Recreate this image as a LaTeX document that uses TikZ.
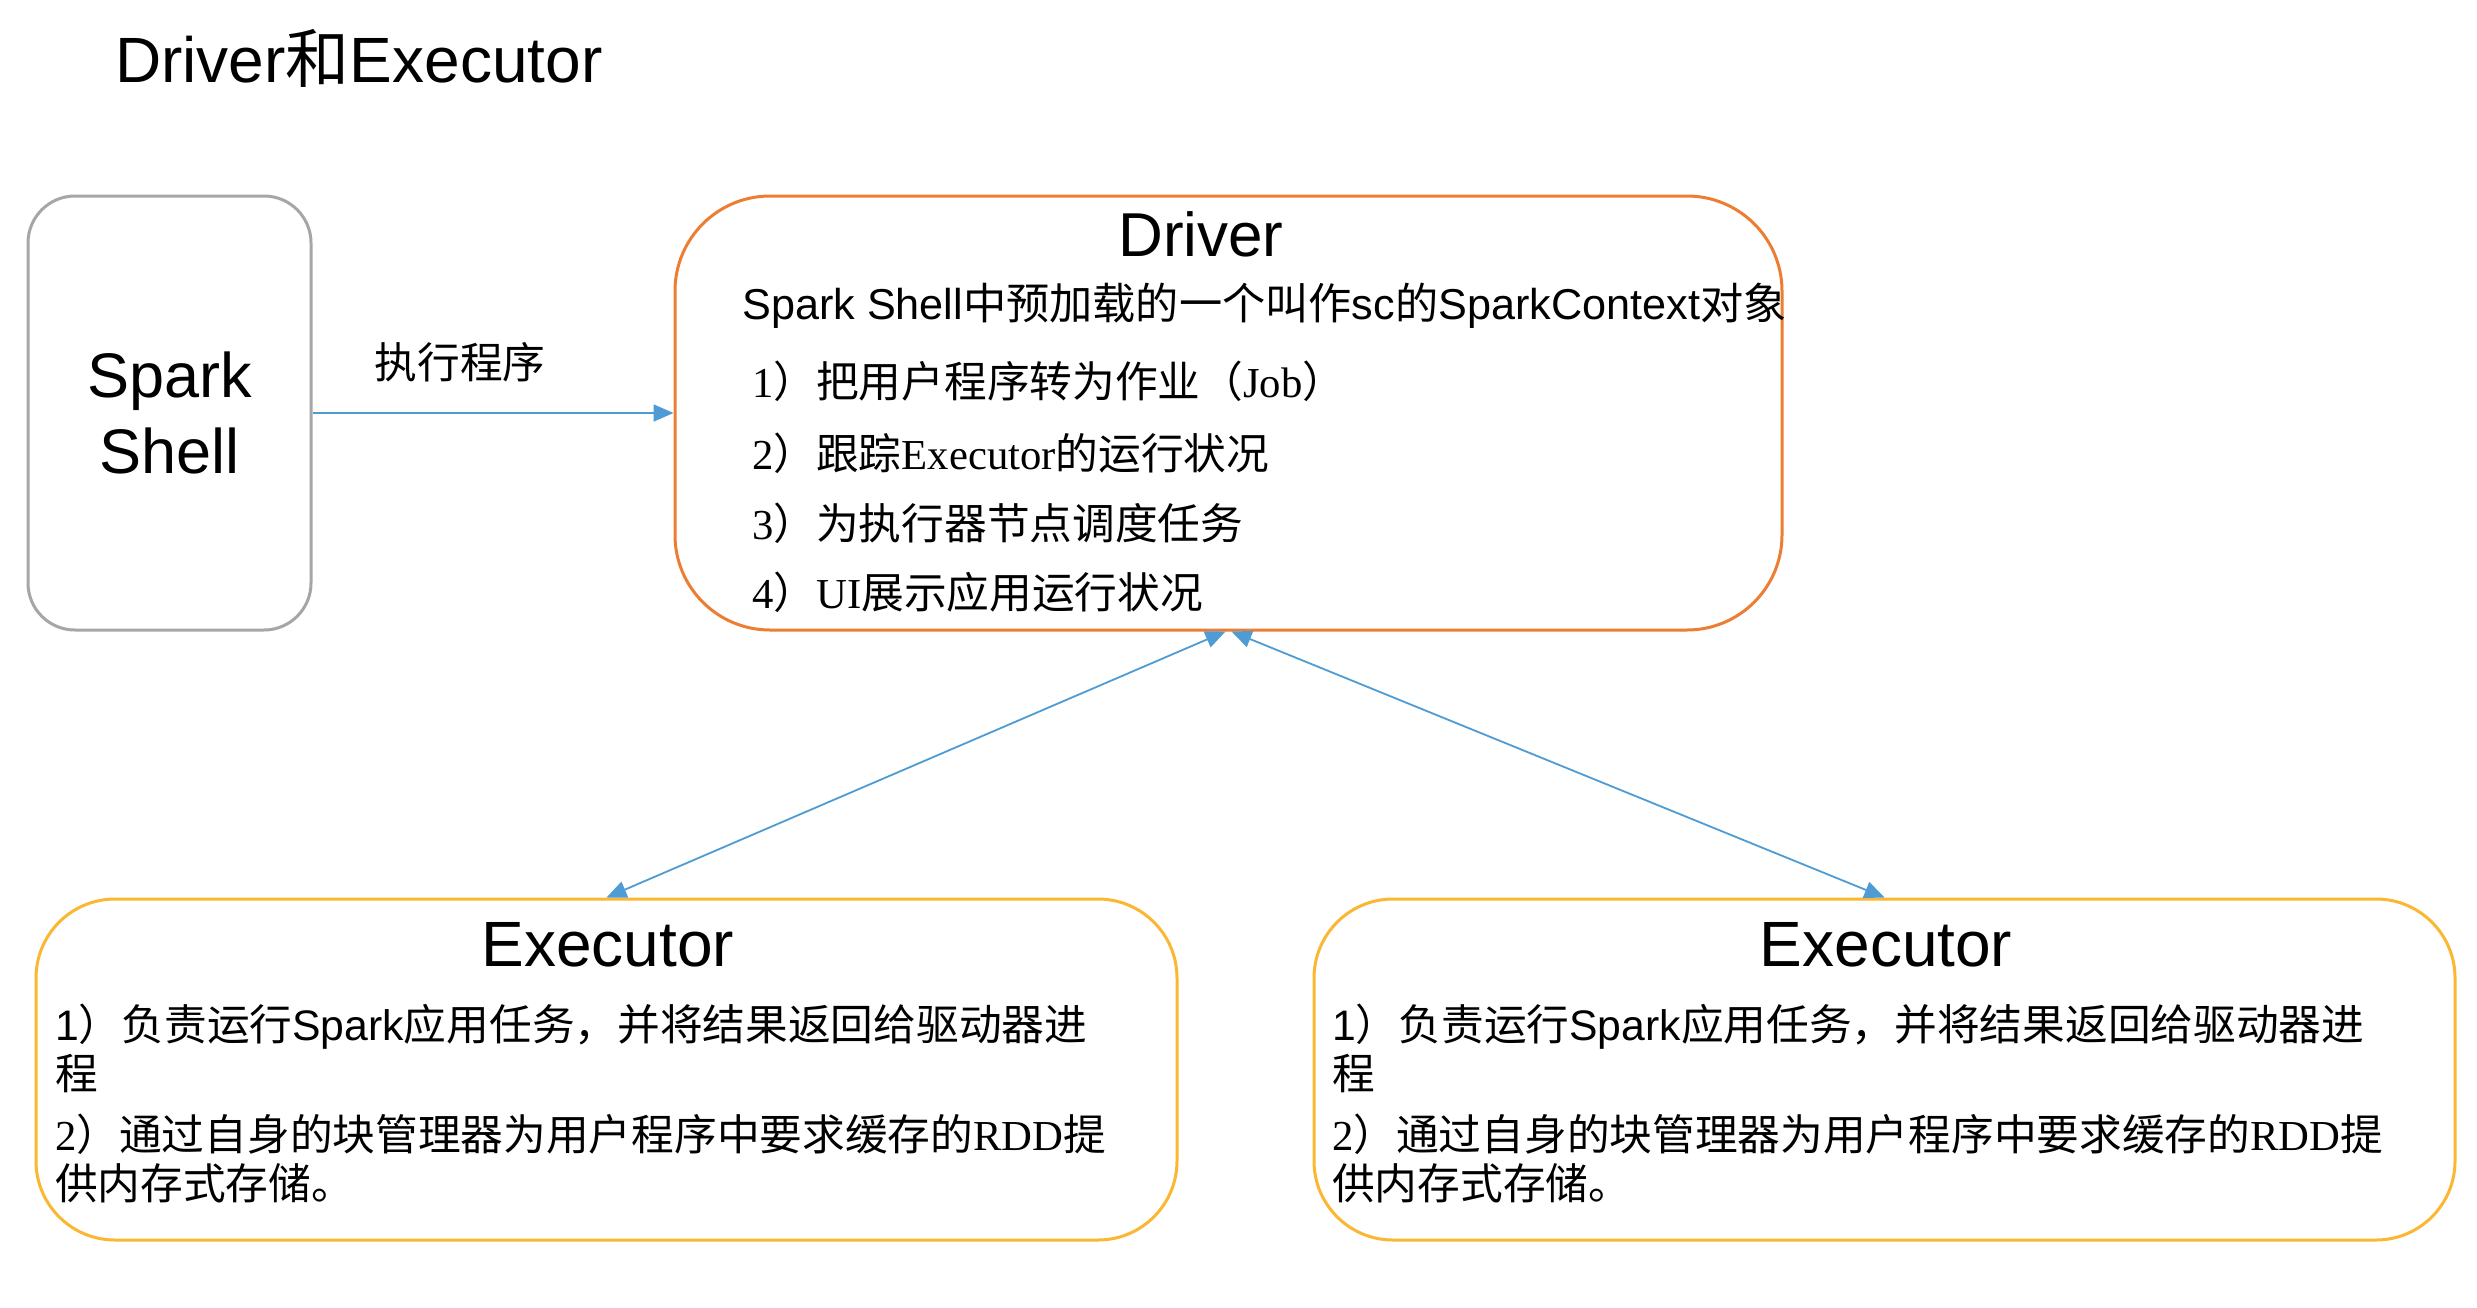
\documentclass[tikz,border=0pt]{standalone}
\usepackage{fontspec}
\setmainfont{Liberation Sans}
\newfontfamily\cjk{Noto Sans CJK SC}
\newfontfamily\tms{Liberation Serif}
\usetikzlibrary{arrows.meta}
\definecolor{shellgray}{HTML}{A6A6A6}
\definecolor{drvorange}{HTML}{ED7D31}
\definecolor{exyellow}{HTML}{FBB731}
\definecolor{arrblue}{HTML}{4F9BD4}
\tikzset{
  boxbase/.style={draw, line width=3pt, rectangle, inner sep=0pt},
  shellbox/.style={boxbase, draw=shellgray, rounded corners=47pt, minimum width=283pt, minimum height=434pt},
  drvbox/.style={boxbase, draw=drvorange, rounded corners=95pt, minimum width=1107pt, minimum height=434pt},
  exbox/.style={boxbase, draw=exyellow, rounded corners=79pt, minimum width=1141pt, minimum height=341pt},
  bigtxt/.style={inner sep=0pt, font=\fontsize{63}{76}\selectfont},
  txt/.style={inner sep=0pt, anchor=west, font=\fontsize{42.7}{50}\selectfont},
  conn/.style={draw=arrblue, line width=1.8pt},
  tipend/.style={-{Triangle[length=20pt,width=17pt]}},
  tipboth/.style={{Triangle[length=20pt,width=17pt]}-{Triangle[length=20pt,width=17pt]}}
}
\begin{document}
\begin{tikzpicture}[x=1pt,y=-1pt]
\useasboundingbox (0,0) rectangle (2477,1307);
\fill[white] (0,0) rectangle (2477,1307);

\node[bigtxt, anchor=west, font=\fontsize{64}{76}\selectfont] (title) at (115,58) {Driver{\cjk 和}Executor};

\node[shellbox, align=center, font=\fontsize{63}{76}\selectfont] (shell) at (169.5,413) {Spark\\Shell};
\node[drvbox] (driver) at (1228.5,413) {};
\node[exbox] (exA) at (606.5,1069.5) {};
\node[exbox] (exB) at (1884.5,1069.5) {};

% Spark Shell -> Driver
\draw[conn, tipend] (shell) -- (driver);
\node[txt, anchor=center] (runlbl) at (460,362) {\cjk 执行程序};

% Driver contents
\node[bigtxt, font=\fontsize{62}{74}\selectfont] (drvtitle) at (1201,234) {Driver};
\node[txt, font=\fontsize{43.2}{50}\selectfont] (drvsub) at (742,306) {Spark Shell{\cjk 中预加载的一个叫作}sc{\cjk 的}SparkContext{\cjk 对象}};
\node[txt] (drv1) at (752,381) {{\tms 1}{\cjk ）把用户程序转为作业（}{\tms Job}{\cjk ）}};
\node[txt] (drv2) at (752,453) {{\tms 2}{\cjk ）跟踪}{\tms Executor}{\cjk 的运行状况}};
\node[txt] (drv3) at (752,523) {{\tms 3}{\cjk ）为执行器节点调度任务}};
\node[txt] (drv4) at (752,592) {{\tms 4}{\cjk ）}{\tms UI}{\cjk 展示应用运行状况}};

% Driver <-> Executors
\draw[conn, tipboth] ([xshift=-3pt]driver.south) -- (exA.north);
\draw[conn, tipboth] ([xshift=3pt]driver.south) -- (exB.north);

% Executor A contents
\node[bigtxt, font=\fontsize{64}{76}\selectfont] (exAtitle) at (608,945) {Executor};
\node[txt] (exA1) at (55,1027) {1{\cjk ）负责运行}Spark{\cjk 应用任务，并将结果返回给驱动器进}};
\node[txt] (exA2) at (55,1074) {\cjk 程};
\node[txt] (exA3) at (55,1134) {{\tms 2}{\cjk ）通过自身的块管理器为用户程序中要求缓存的}{\tms RDD}{\cjk 提}};
\node[txt] (exA4) at (55,1183) {\cjk 供内存式存储。};

% Executor B contents
\node[bigtxt, font=\fontsize{64}{76}\selectfont] (exBtitle) at (1886,945) {Executor};
\node[txt] (exB1) at (1332,1027) {1{\cjk ）负责运行}Spark{\cjk 应用任务，并将结果返回给驱动器进}};
\node[txt] (exB2) at (1332,1074) {\cjk 程};
\node[txt] (exB3) at (1332,1134) {{\tms 2}{\cjk ）通过自身的块管理器为用户程序中要求缓存的}{\tms RDD}{\cjk 提}};
\node[txt] (exB4) at (1332,1183) {\cjk 供内存式存储。};
\end{tikzpicture}
\end{document}
